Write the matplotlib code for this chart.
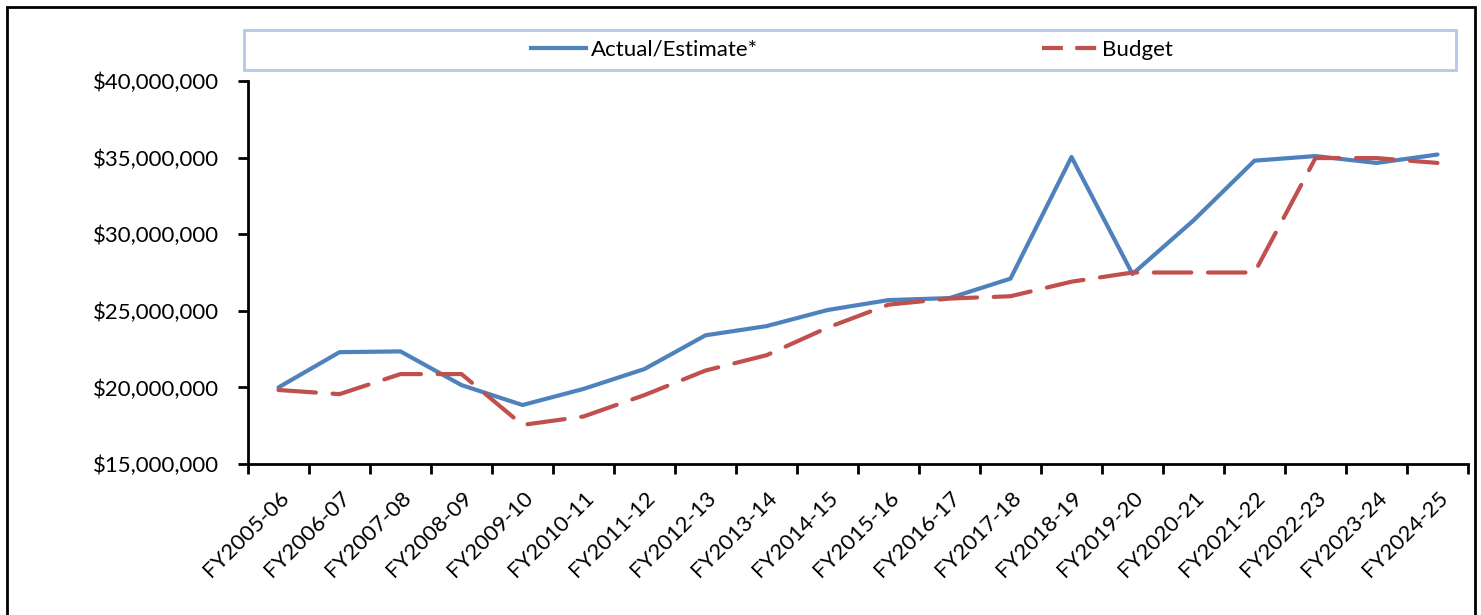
import matplotlib.pyplot as plt
from matplotlib.patches import Rectangle
from matplotlib.lines import Line2D
from matplotlib.ticker import FuncFormatter, FixedLocator
import numpy as np

years = ['FY2005-06', 'FY2006-07', 'FY2007-08', 'FY2008-09', 'FY2009-10',
         'FY2010-11', 'FY2011-12', 'FY2012-13', 'FY2013-14', 'FY2014-15',
         'FY2015-16', 'FY2016-17', 'FY2017-18', 'FY2018-19', 'FY2019-20',
         'FY2020-21', 'FY2021-22', 'FY2022-23', 'FY2023-24', 'FY2024-25']

actual = [20.0, 22.3, 22.35, 20.15, 18.85, 19.9, 21.2, 23.4, 24.0, 25.05,
          25.7, 25.83, 27.1, 35.04, 27.4, 30.9, 34.8, 35.1, 34.65, 35.2]
budget = [19.83, 19.56, 20.87, 20.87, 17.55, 18.1, 19.5, 21.1, 22.1, 23.9,
          25.4, 25.8, 25.95, 26.9, 27.5, 27.5, 27.5, 34.97, 34.97, 34.65]

actual = [v * 1e6 for v in actual]
budget = [v * 1e6 for v in budget]

blue = '#4F81BD'
red = '#C0504D'

plt.rcParams['font.family'] = ['Lato', 'DejaVu Sans']

fig = plt.figure(figsize=(14.81, 6.15), dpi=100)
ax = fig.add_axes([248 / 1481, 1 - 464 / 615, 1220 / 1481, 383 / 615])

x = np.arange(len(years))
ax.plot(x, actual, color=blue, lw=3, solid_capstyle='round', solid_joinstyle='round')
ax.plot(x, budget, color=red, lw=3, linestyle=(0, (9, 4)), dash_capstyle='round')

ax.set_xlim(-0.5, len(years) - 0.5)
ax.set_ylim(15e6, 40e6)
ax.yaxis.set_major_locator(FixedLocator(np.arange(15e6, 40e6 + 1, 5e6)))
ax.yaxis.set_major_formatter(FuncFormatter(lambda v, p: '${:,.0f}'.format(v)))

ax.set_xticks(x)
ax.set_xticklabels(years, rotation=45, ha='right', rotation_mode='anchor')
ax.set_xticks(np.arange(-0.5, len(years)), minor=True)
ax.tick_params(axis='x', which='major', length=0, pad=17, labelsize=16)
ax.tick_params(axis='x', which='minor', length=7, width=2, direction='out')
ax.tick_params(axis='y', length=7, width=2, labelsize=16, pad=14)

for s in ['top', 'right']:
    ax.spines[s].set_visible(False)
for s in ['left', 'bottom']:
    ax.spines[s].set_linewidth(2)

# legend box
fig.patches.append(Rectangle((244 / 1481, 1 - 70 / 615), 1212 / 1481, 40 / 615,
                             transform=fig.transFigure, fill=False,
                             edgecolor='#B4C8EA', lw=2))
handles = [Line2D([], [], color=blue, lw=3),
           Line2D([], [], color=red, lw=3, linestyle=(0, (5, 3)))]
fig.legend(handles, ['Actual/Estimate*', 'Budget'], loc='center',
           bbox_to_anchor=(852 / 1481, 1 - 50 / 615), ncol=2, frameon=False,
           fontsize=16, handlelength=2.5, handletextpad=0.2, columnspacing=12.8)

# outer frame
fig.patches.append(Rectangle((7 / 1481, -0.05), 1468 / 1481, 1.05 - 7 / 615,
                             transform=fig.transFigure, fill=False,
                             edgecolor='black', lw=2))

fig.savefig('out.png', dpi=100)
